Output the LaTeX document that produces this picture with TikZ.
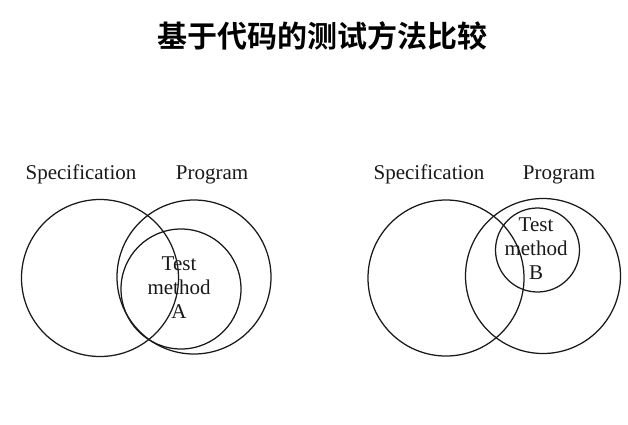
\documentclass[tikz,border=0pt]{standalone}
\usepackage{fontspec}
\setmainfont{Liberation Serif}
\newfontfamily\cjk{Noto Sans CJK SC}[BoldFont={* Bold}]
\begin{document}
\begin{tikzpicture}[x=1pt,y=-1pt,
  ring/.style={circle,draw=black!90,line width=1.25pt,inner sep=0pt},
  lbl/.style={font=\fontsize{21}{24}\selectfont,inner sep=0pt,anchor=base,text=black!90},
  inlbl/.style={font=\fontsize{21}{24}\selectfont,inner sep=0pt,align=center,text=black!90}]
\useasboundingbox[fill=white] (0,0) rectangle (628,424);
\node[font=\cjk\bfseries\fontsize{30}{34}\selectfont,inner sep=0pt] (title) at (322,36) {基于代码的测试方法比较};
% left diagram
\node[lbl] (specL) at (81,179) {Specification};
\node[lbl] (progL) at (212,179) {Program};
\node[ring,minimum size=157pt] (cSpecL) at (100,278) {};
\node[ring,minimum size=154pt] (cProgL) at (194,277) {};
\node[ring,minimum size=120pt] (cA) at (181,289) {};
\node[inlbl] (tA) at (179,288) {Test\\method\\A};
% right diagram
\node[lbl] (specR) at (429,179) {Specification};
\node[lbl] (progR) at (559,179) {Program};
\node[ring,minimum size=156pt] (cSpecR) at (446,278) {};
\node[ring,minimum size=155pt] (cProgR) at (543,276) {};
\node[ring,minimum size=84pt] (cB) at (537.5,250) {};
\node[inlbl] (tB) at (536,249) {Test\\method\\B};
\end{tikzpicture}
\end{document}
